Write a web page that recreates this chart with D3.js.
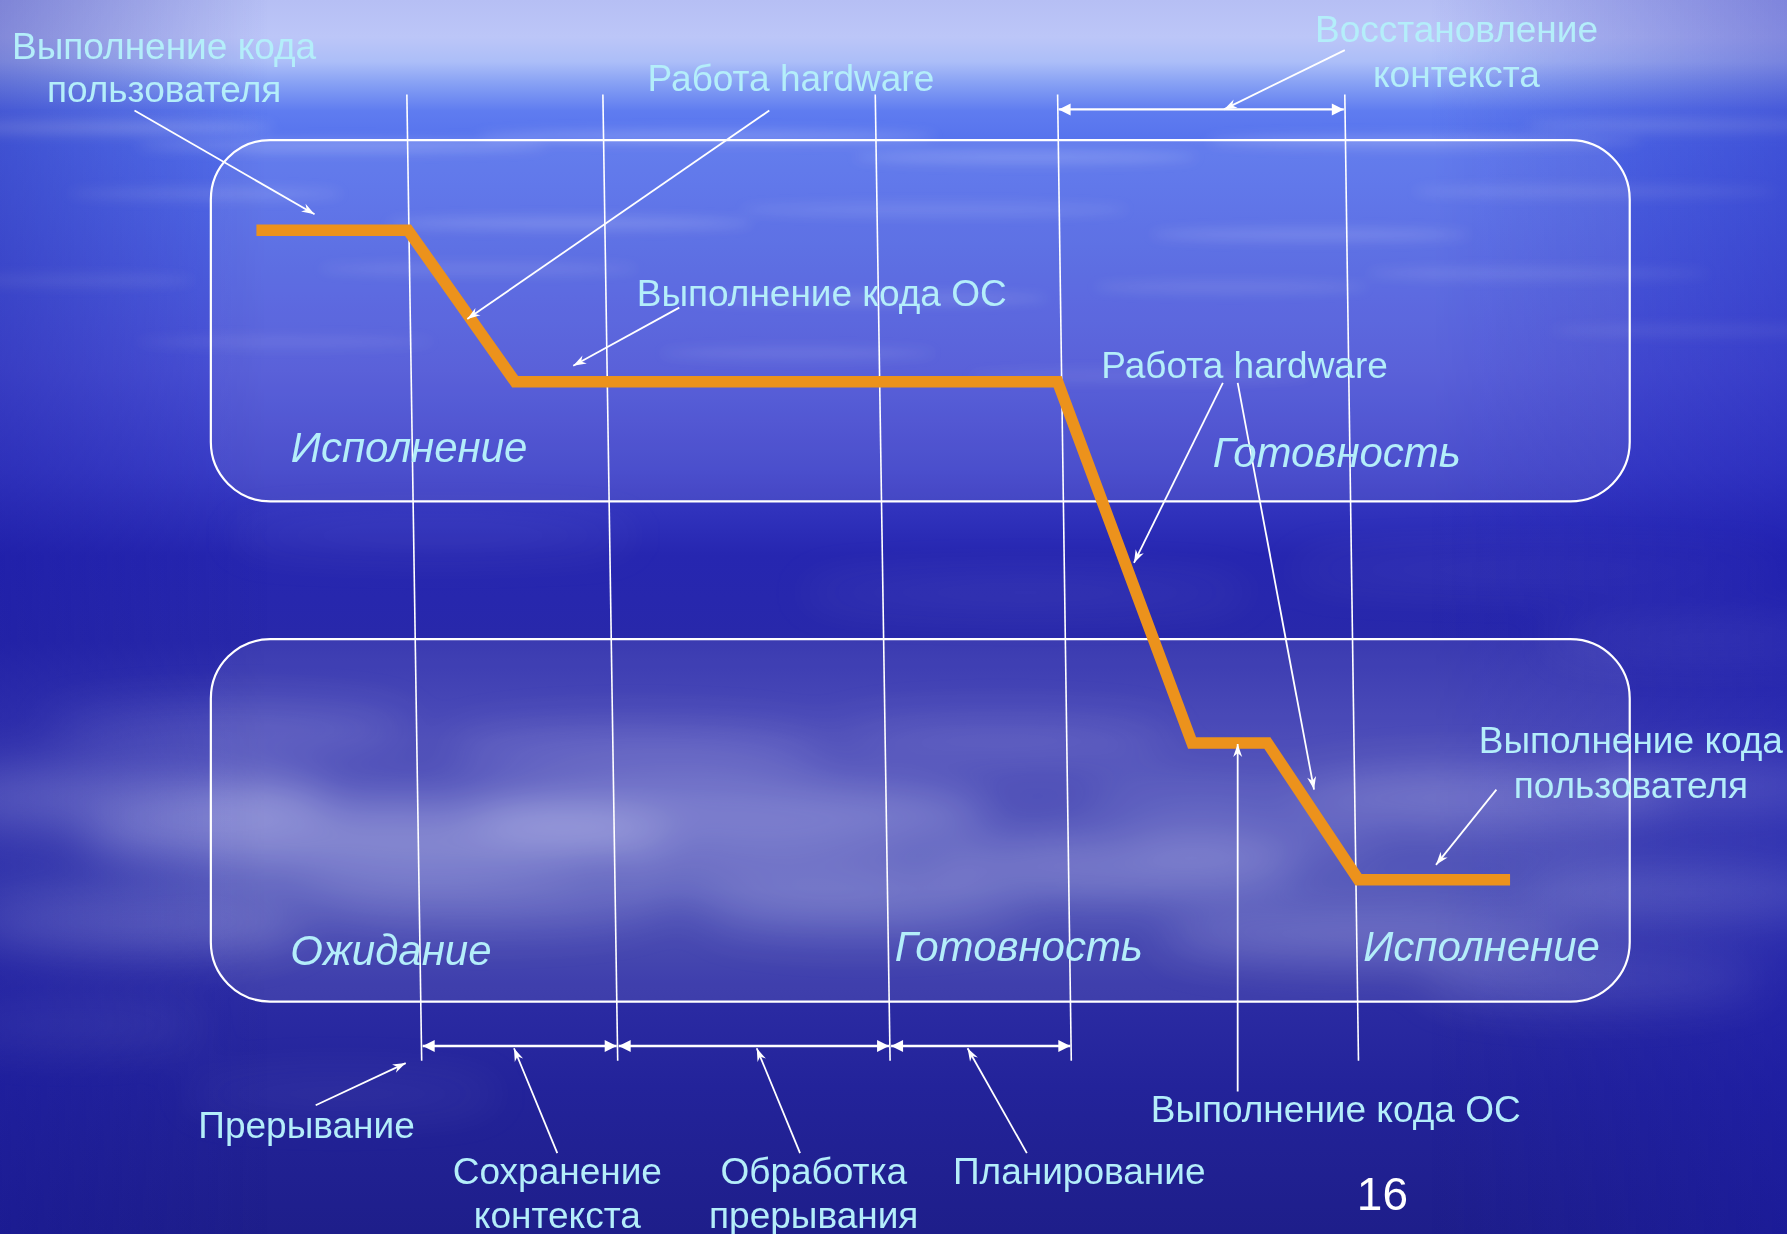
<!DOCTYPE html>
<html>
<head>
<meta charset="utf-8">
<script src="https://cdn.jsdelivr.net/npm/d3@7"></script>
<style>
  html, body { margin: 0; padding: 0; background: #2a2aa8; overflow: hidden; }
  svg { display: block; }
</style>
</head>
<body>
<div id="canvas"></div>
<script>
"use strict";

/* ===============================
   Configuration */
let svgWidth = 1787;
let svgHeight = 1234;
let textColor = "#b4eefa";
let lineColor = "#ffffff";
let pathColor = "#ec921c";
let fontFamily = "'Liberation Sans', Arial, sans-serif";

/* Values are read in reference units (1568 x 1083 picture) */
let xScale = d3.scaleLinear().domain([0, 1568]).range([0, svgWidth]);
let yScale = d3.scaleLinear().domain([0, 1083]).range([0, svgHeight]);

/* State boxes (top: Исполнение / Готовность, bottom: Ожидание / Готовность / Исполнение) */
let boxTops = [123, 561];
let boxBottoms = [440, 879];
let boxLeft = 185;
let boxRight = 1430;

/* Time boundaries: x at top (y=83) and at bottom (y=931) */
let boundaryTopX = [357, 529, 768, 928, 1180];
let boundaryBottomX = [370, 542, 781, 940, 1192];

/* Process state line */
let stateX = [225, 358, 452, 928, 1046, 1112, 1192, 1325];
let stateY = [202, 202, 335, 335, 652, 652, 772, 772];

/* Interval arrows */
let intervalY = [96, 918, 918, 918];
let intervalFrom = [928, 370, 542, 781];
let intervalTo = [1180, 542, 781, 940];

/* Callout arrows: from label to mark */
let calloutFromX = [118, 675, 596, 1180, 1073, 1086, 1313, 277, 489, 702, 901, 1086];
let calloutFromY = [97, 97, 270, 44, 336, 336, 693, 970, 1012, 1012, 1012, 958];
let calloutToX = [276, 410, 503, 1074, 995, 1153, 1260, 356, 451, 664, 849, 1086];
let calloutToY = [188, 280, 321, 96, 494, 693, 759, 933, 920, 920, 920, 653];

/* Labels */
let labelText = [
  "Выполнение кода", "пользователя",
  "Работа hardware",
  "Восстановление", "контекста",
  "Выполнение кода ОС",
  "Работа hardware",
  "Выполнение кода", "пользователя",
  "Прерывание",
  "Сохранение", "контекста",
  "Обработка", "прерывания",
  "Планирование",
  "Выполнение кода ОС"
];
let labelX = [144, 144, 694, 1278, 1278, 721, 1092, 1431, 1431, 269, 489, 489, 714, 714, 947, 1172];
let labelY = [40, 78, 68, 25, 65, 257, 320, 649, 689, 987, 1027, 1066, 1027, 1066, 1027, 973];

let stateText = ["Исполнение", "Готовность", "Ожидание", "Готовность", "Исполнение"];
let stateLabelX = [359, 1173, 343, 894, 1300];
let stateLabelY = [392, 397, 834, 830, 830];

let pageNumber = "16";

/* Background cloud patches (decoration) */
let cloudX = [90, 330, 640, 980, 1300, 1520, 200, 560, 880, 1200, 1480, 120, 420, 760, 1100, 1400, 60, 300, 700, 1050, 1500, 380, 900, 1350];
let cloudY = [700, 735, 715, 760, 700, 690, 640, 660, 650, 820, 785, 810, 790, 800, 740, 860, 900, 960, 770, 700, 560, 470, 520, 500];
let cloudRx = [200, 260, 230, 160, 170, 120, 160, 170, 150, 180, 140, 150, 160, 140, 110, 150, 120, 140, 160, 100, 140, 180, 200, 220];
let cloudRy = [28, 34, 30, 26, 24, 20, 18, 20, 16, 24, 22, 26, 22, 20, 16, 22, 18, 16, 24, 18, 14, 10, 10, 10];
let cloudOp = [0.32, 0.34, 0.3, 0.26, 0.26, 0.24, 0.18, 0.2, 0.16, 0.22, 0.2, 0.24, 0.2, 0.18, 0.16, 0.18, 0.1, 0.08, 0.2, 0.14, 0.16, 0.12, 0.12, 0.12];

let streakX = [80, 300, 620, 900, 1250, 1480, 180, 500, 820, 1150, 1400, 60, 420, 760, 1080, 1350, 250, 700, 1000, 1500];
let streakY = [112, 128, 120, 138, 124, 110, 170, 196, 184, 206, 168, 246, 236, 262, 252, 240, 300, 310, 330, 290];
let streakRx = [160, 180, 200, 150, 190, 140, 120, 160, 170, 140, 160, 110, 140, 160, 120, 150, 130, 120, 150, 140];
let streakOp = [0.3, 0.25, 0.28, 0.22, 0.26, 0.24, 0.16, 0.2, 0.14, 0.18, 0.16, 0.14, 0.12, 0.16, 0.12, 0.14, 0.1, 0.12, 0.1, 0.12];

/* ===============================
   Canvas */
let svg = d3.select("#canvas")
  .append("svg")
  .attr("width", svgWidth)
  .attr("height", svgHeight);

let defs = svg.append("defs");

let grad = defs.append("linearGradient")
  .attr("id", "sky")
  .attr("x1", 0).attr("y1", 0).attr("x2", 0).attr("y2", 1);
let skyStops = [
  [0.0, "#b6bff4"], [0.03, "#bcc6f8"], [0.05, "#acbef8"], [0.068, "#86a0f4"],
  [0.09, "#5f7cf0"], [0.12, "#5470ec"], [0.2, "#4f63e2"], [0.3, "#4a52d6"],
  [0.38, "#3a3ec8"], [0.45, "#2626b0"], [0.52, "#2828aa"], [0.6, "#3c3cb2"],
  [0.72, "#4246b2"], [0.8, "#2c2ca4"], [0.88, "#23239a"], [1.0, "#1e1e8a"]
];
grad.selectAll("stop")
  .data(skyStops)
  .join("stop")
  .attr("offset", function (d) { return d[0]; })
  .attr("stop-color", function (d) { return d[1]; });

/* side shading: edges deeper blue */
let side = defs.append("linearGradient")
  .attr("id", "side")
  .attr("x1", 0).attr("y1", 0).attr("x2", 1).attr("y2", 0);
side.append("stop").attr("offset", 0).attr("stop-color", "#1818a0").attr("stop-opacity", 0.35);
side.append("stop").attr("offset", 0.15).attr("stop-color", "#1818a0").attr("stop-opacity", 0.0);
side.append("stop").attr("offset", 0.8).attr("stop-color", "#1818b0").attr("stop-opacity", 0.0);
side.append("stop").attr("offset", 1).attr("stop-color", "#1818b0").attr("stop-opacity", 0.35);

/* keep the top band light across the width */
let topMask = defs.append("linearGradient")
  .attr("id", "topFade")
  .attr("x1", 0).attr("y1", 0).attr("x2", 0).attr("y2", 1);
topMask.append("stop").attr("offset", 0).attr("stop-color", "#000").attr("stop-opacity", 0);
topMask.append("stop").attr("offset", 0.1).attr("stop-color", "#000").attr("stop-opacity", 0);
topMask.append("stop").attr("offset", 0.3).attr("stop-color", "#000").attr("stop-opacity", 1);

defs.append("filter")
  .attr("id", "blurBig")
  .attr("x", "-50%").attr("y", "-50%").attr("width", "200%").attr("height", "200%")
  .append("feGaussianBlur").attr("stdDeviation", 22);

defs.append("filter")
  .attr("id", "blurSmall")
  .attr("x", "-50%").attr("y", "-50%").attr("width", "200%").attr("height", "200%")
  .append("feGaussianBlur").attr("stdDeviation", 6);

/* arrow markers */
defs.append("marker")
  .attr("id", "tip")
  .attr("viewBox", "-14 -6 16 12")
  .attr("refX", 0).attr("refY", 0)
  .attr("markerUnits", "userSpaceOnUse")
  .attr("markerWidth", 16).attr("markerHeight", 12)
  .attr("orient", "auto")
  .append("path")
  .attr("d", "M0,0 L-13,-4.5 L-9,0 L-13,4.5 Z")
  .attr("fill", lineColor);

defs.append("marker")
  .attr("id", "dimEnd")
  .attr("viewBox", "-14 -7 16 14")
  .attr("refX", 0).attr("refY", 0)
  .attr("markerUnits", "userSpaceOnUse")
  .attr("markerWidth", 16).attr("markerHeight", 14)
  .attr("orient", "auto-start-reverse")
  .append("path")
  .attr("d", "M0,0 L-12,-6 L-12,6 Z")
  .attr("fill", lineColor);

/* Background */
svg.append("rect")
  .attr("width", svgWidth)
  .attr("height", svgHeight)
  .attr("fill", "url(#sky)");

let clouds = svg.append("g").attr("filter", "url(#blurBig)");
clouds.selectAll("ellipse")
  .data(d3.range(cloudX.length))
  .join("ellipse")
  .attr("cx", function (i) { return xScale(cloudX[i]); })
  .attr("cy", function (i) { return yScale(cloudY[i]); })
  .attr("rx", function (i) { return xScale(cloudRx[i]); })
  .attr("ry", function (i) { return yScale(cloudRy[i]); })
  .attr("fill", "#e6e8ff")
  .attr("opacity", function (i) { return cloudOp[i]; });

let streaks = svg.append("g").attr("filter", "url(#blurSmall)");
streaks.selectAll("ellipse")
  .data(d3.range(streakX.length))
  .join("ellipse")
  .attr("cx", function (i) { return xScale(streakX[i]); })
  .attr("cy", function (i) { return yScale(streakY[i]); })
  .attr("rx", function (i) { return xScale(streakRx[i]); })
  .attr("ry", 6)
  .attr("fill", "#dfe4ff")
  .attr("opacity", function (i) { return streakOp[i]; });

svg.append("rect")
  .attr("width", svgWidth)
  .attr("height", svgHeight)
  .attr("fill", "url(#side)");

/* ===============================
   State boxes */
svg.selectAll("rect.stateBox")
  .data([0, 1])
  .join("rect")
  .attr("class", "stateBox")
  .attr("x", xScale(boxLeft))
  .attr("y", function (i) { return yScale(boxTops[i]); })
  .attr("width", xScale(boxRight) - xScale(boxLeft))
  .attr("height", function (i) { return yScale(boxBottoms[i]) - yScale(boxTops[i]); })
  .attr("rx", xScale(52))
  .attr("ry", yScale(52))
  .attr("fill", "#ffffff")
  .attr("fill-opacity", 0.09)
  .attr("stroke", lineColor)
  .attr("stroke-width", 2.2);

/* Time boundaries */
svg.selectAll("line.boundary")
  .data(d3.range(boundaryTopX.length))
  .join("line")
  .attr("class", "boundary")
  .attr("x1", function (i) { return xScale(boundaryTopX[i]); })
  .attr("y1", yScale(83))
  .attr("x2", function (i) { return xScale(boundaryBottomX[i]); })
  .attr("y2", yScale(931))
  .attr("stroke", lineColor)
  .attr("stroke-width", 1.6);

/* Interval arrows */
svg.selectAll("line.interval")
  .data(d3.range(intervalY.length))
  .join("line")
  .attr("class", "interval")
  .attr("x1", function (i) { return xScale(intervalFrom[i]) + 1; })
  .attr("y1", function (i) { return yScale(intervalY[i]); })
  .attr("x2", function (i) { return xScale(intervalTo[i]) - 1; })
  .attr("y2", function (i) { return yScale(intervalY[i]); })
  .attr("stroke", lineColor)
  .attr("stroke-width", 2.4)
  .attr("marker-start", "url(#dimEnd)")
  .attr("marker-end", "url(#dimEnd)");

/* Process state line */
let stateLine = d3.line()
  .x(function (i) { return xScale(stateX[i]); })
  .y(function (i) { return yScale(stateY[i]); });

svg.append("path")
  .attr("d", stateLine(d3.range(stateX.length)))
  .attr("fill", "none")
  .attr("stroke", pathColor)
  .attr("stroke-width", 11.5)
  .attr("stroke-linejoin", "miter")
  .attr("stroke-linecap", "butt");

/* Callout arrows */
svg.selectAll("line.callout")
  .data(d3.range(calloutFromX.length))
  .join("line")
  .attr("class", "callout")
  .attr("x1", function (i) { return xScale(calloutFromX[i]); })
  .attr("y1", function (i) { return yScale(calloutFromY[i]); })
  .attr("x2", function (i) { return xScale(calloutToX[i]); })
  .attr("y2", function (i) { return yScale(calloutToY[i]); })
  .attr("stroke", lineColor)
  .attr("stroke-width", 1.8)
  .attr("marker-end", "url(#tip)");

/* ===============================
   Texts */
svg.selectAll("text.label")
  .data(d3.range(labelText.length))
  .join("text")
  .attr("class", "label")
  .attr("x", function (i) { return xScale(labelX[i]); })
  .attr("y", function (i) { return yScale(labelY[i]); })
  .attr("dy", "0.36em")
  .attr("text-anchor", "middle")
  .attr("font-family", fontFamily)
  .attr("font-size", 37)
  .attr("fill", textColor)
  .text(function (i) { return labelText[i]; });

svg.selectAll("text.state")
  .data(d3.range(stateText.length))
  .join("text")
  .attr("class", "state")
  .attr("x", function (i) { return xScale(stateLabelX[i]); })
  .attr("y", function (i) { return yScale(stateLabelY[i]); })
  .attr("dy", "0.36em")
  .attr("text-anchor", "middle")
  .attr("font-family", fontFamily)
  .attr("font-style", "italic")
  .attr("font-size", 42)
  .attr("fill", textColor)
  .text(function (i) { return stateText[i]; });

svg.append("text")
  .attr("x", xScale(1213))
  .attr("y", yScale(1047))
  .attr("dy", "0.36em")
  .attr("text-anchor", "middle")
  .attr("font-family", fontFamily)
  .attr("font-size", 46)
  .attr("fill", "#ffffff")
  .text(pageNumber);
</script>
</body>
</html>
